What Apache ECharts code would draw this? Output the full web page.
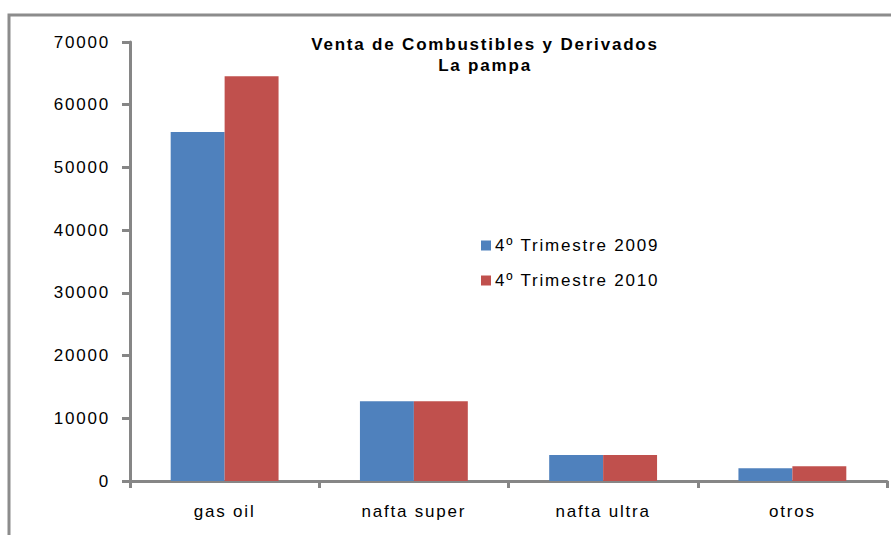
<!DOCTYPE html>
<html>
<head>
<meta charset="utf-8">
<title>Venta de Combustibles y Derivados</title>
<script src="https://cdn.jsdelivr.net/npm/echarts@6/dist/echarts.min.js"></script>
<style>
    html, body { margin: 0; padding: 0; background: #fff; }
    #chart { width: 891px; height: 535px; }
    /* el original tiene letras espaciadas */
    #chart text { letter-spacing: 1.8px; }
</style>
</head>
<body>
<div id="chart"></div>
<script>
// datos del gráfico
const categories = ['gas oil', 'nafta super', 'nafta ultra', 'otros'];
const serie2009 = [55650, 12700, 4150, 2030];
const serie2010 = [64550, 12700, 4150, 2350];
const seriesNames = ['4º Trimestre 2009', '4º Trimestre 2010'];

const axisColor = '#868686';
const font = '"Liberation Sans", Arial, sans-serif';

document.addEventListener('DOMContentLoaded', function () {
    const chart = echarts.init(document.getElementById('chart'), null, { renderer: 'svg' });
    const option = {
        animation: false,
        backgroundColor: '#fff',
        textStyle: { fontFamily: font },
        // borde exterior del gráfico
        graphic: [{
            type: 'rect',
            shape: { x: 9, y: 15, width: 1000, height: 1000 },
            style: { fill: 'none', stroke: '#8c8c8c', lineWidth: 3 },
            silent: true
        }],
        title: {
            text: 'Venta de Combustibles y Derivados\nLa pampa',
            left: 485,
            top: 34,
            padding: 0,
            textAlign: 'center',
            textStyle: {
                fontFamily: font,
                fontSize: 17,
                fontWeight: 'bold',
                color: '#000',
                lineHeight: 21
            }
        },
        legend: {
            orient: 'vertical',
            left: 481,
            top: 237,
            padding: 0,
            itemWidth: 10,
            itemHeight: 10,
            itemGap: 18,
            icon: 'rect',
            data: seriesNames,
            textStyle: { fontFamily: font, fontSize: 17, color: '#000', padding: [0, 0, 0, -1] }
        },
        grid: {
            left: 130,
            right: 4,
            top: 42,
            bottom: 54,
            containLabel: false
        },
        xAxis: {
            type: 'category',
            data: categories,
            axisLine: { lineStyle: { color: axisColor, width: 3 } },
            axisTick: { show: true, length: 7, lineStyle: { color: axisColor, width: 3 } },
            axisLabel: { color: '#000', fontSize: 17, margin: 22, fontFamily: font }
        },
        yAxis: {
            type: 'value',
            min: 0,
            max: 70000,
            interval: 10000,
            axisLine: { show: true, lineStyle: { color: axisColor, width: 3 } },
            axisTick: { show: true, length: 8, lineStyle: { color: axisColor, width: 3 } },
            splitLine: { show: false },
            axisLabel: {
                color: '#000',
                fontSize: 17,
                margin: 20,
                fontFamily: font,
                formatter: function (v) { return String(v); }
            }
        },
        series: [
            {
                name: seriesNames[0],
                type: 'bar',
                data: serie2009,
                barGap: '0%',
                barCategoryGap: '43%',
                itemStyle: { color: '#4f81bd' }
            },
            {
                name: seriesNames[1],
                type: 'bar',
                data: serie2010,
                barGap: '0%',
                barCategoryGap: '43%',
                itemStyle: { color: '#c0504d' }
            }
        ]
    };
    chart.setOption(option);
});
</script>
</body>
</html>
